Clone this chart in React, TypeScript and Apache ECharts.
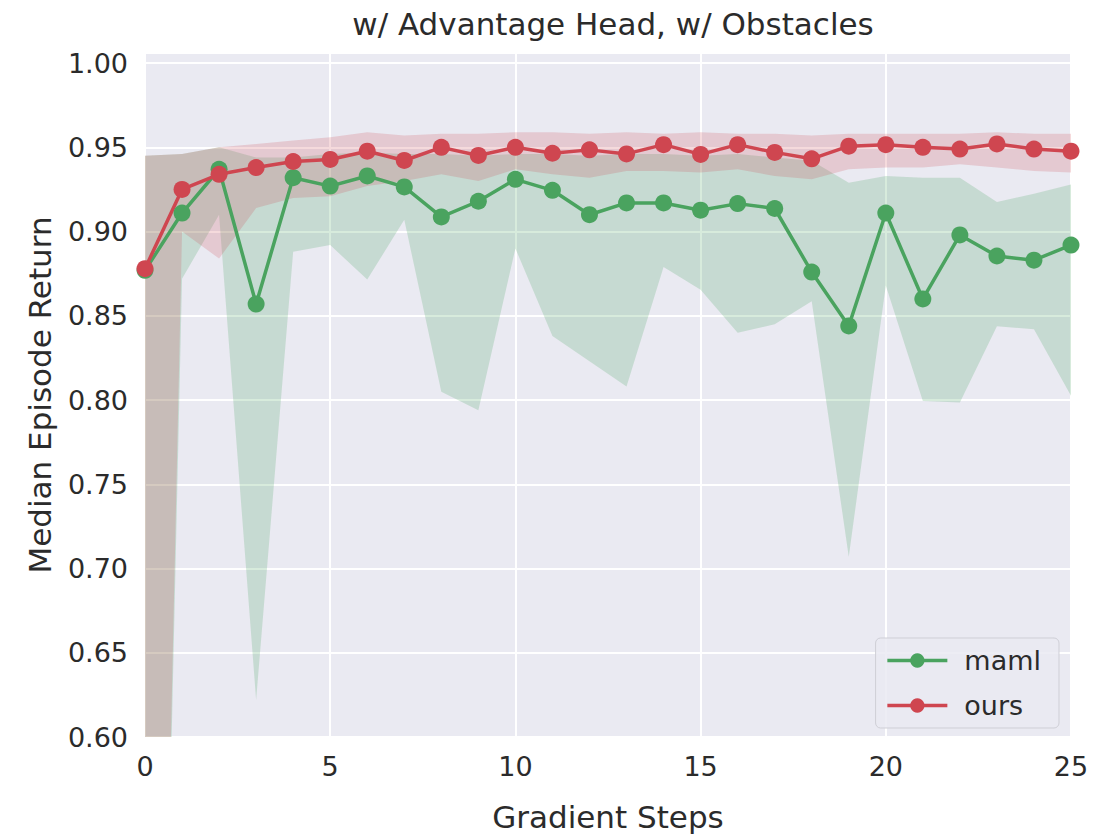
import React, { useEffect, useRef } from "react";
import * as echarts from "echarts";

const steps = [0, 1, 2, 3, 4, 5, 6, 7, 8, 9, 10, 11, 12, 13, 14, 15, 16, 17, 18, 19, 20, 21, 22, 23, 24, 25];

const mamlMedian = [0.877, 0.911, 0.937, 0.857, 0.932, 0.927, 0.933, 0.9265, 0.9087, 0.918, 0.931, 0.9245, 0.910, 0.917, 0.917, 0.9127, 0.9166, 0.9137, 0.876, 0.844, 0.911, 0.860, 0.898, 0.8855, 0.883, 0.892];
const mamlLower = [-0.1, 0.872, 0.91, 0.622, 0.888, 0.892, 0.8715, 0.907, 0.805, 0.794, 0.890, 0.838, 0.823, 0.808, 0.879, 0.8655, 0.840, 0.845, 0.8586, 0.707, 0.868, 0.7995, 0.7985, 0.8438, 0.842, 0.8025];
const mamlUpper = [0.945, 0.946, 0.950, 0.944, 0.944, 0.946, 0.947, 0.946, 0.946, 0.945, 0.946, 0.946, 0.945, 0.946, 0.946, 0.945, 0.946, 0.944, 0.942, 0.929, 0.933, 0.932, 0.932, 0.9176, 0.9225, 0.928];

const oursMedian = [0.878, 0.925, 0.934, 0.938, 0.9416, 0.9428, 0.9477, 0.9422, 0.950, 0.9452, 0.950, 0.9465, 0.9485, 0.9461, 0.9516, 0.9458, 0.9516, 0.947, 0.9432, 0.9507, 0.9516, 0.950, 0.949, 0.952, 0.949, 0.9477];
const oursLower = [-0.1, 0.90, 0.884, 0.914, 0.92, 0.921, 0.927, 0.93, 0.934, 0.930, 0.937, 0.934, 0.932, 0.936, 0.936, 0.935, 0.937, 0.933, 0.931, 0.937, 0.938, 0.938, 0.940, 0.938, 0.936, 0.935];
const oursUpper = [0.945, 0.946, 0.950, 0.952, 0.954, 0.956, 0.959, 0.957, 0.958, 0.958, 0.959, 0.959, 0.958, 0.959, 0.958, 0.959, 0.958, 0.958, 0.957, 0.958, 0.958, 0.958, 0.958, 0.959, 0.958, 0.958];

const xTicks = [0, 5, 10, 15, 20, 25];
const yTicks = [0.6, 0.65, 0.7, 0.75, 0.8, 0.85, 0.9, 0.95, 1.0];

const GREEN = "#4aa35f";
const RED = "#cf4650";
const GREEN_BAND = "rgba(74,163,95,0.22)";
const RED_BAND = "rgba(207,70,80,0.2)";
const FONT = "DejaVu Sans";
const TEXT = "#2b2b2b";

function pairs(ys: number[]) {
  return steps.map((x, i) => [x, ys[i]]);
}

function bandSeries(name: string, lo: number[], up: number[], fill: string) {
  return {
    name,
    type: "custom",
    clip: true,
    silent: true,
    data: steps.map((x, i) => [x, lo[i], up[i]]),
    encode: { x: 0, y: [1, 2] },
    renderItem: (params: any, api: any) => {
      if (params.dataIndex !== 0) return null;
      const pts: number[][] = [];
      for (let i = 0; i < steps.length; i++) pts.push(api.coord([steps[i], up[i]]));
      for (let i = steps.length - 1; i >= 0; i--) pts.push(api.coord([steps[i], lo[i]]));
      return {
        type: "polygon",
        shape: { points: pts },
        style: { fill, stroke: "none" },
      };
    },
  };
}

function lineSeries(name: string, ys: number[], color: string) {
  return {
    name,
    type: "line",
    data: pairs(ys),
    symbol: "circle",
    symbolSize: 17,
    itemStyle: { color },
    lineStyle: { color, width: 3.5 },
  };
}

export default function App() {
  const ref = useRef<HTMLDivElement>(null);
  useEffect(() => {
    if (!ref.current) return;
    const chart = echarts.init(ref.current, undefined, { renderer: "svg" });
    chart.setOption({
      animation: false,
      textStyle: { fontFamily: FONT },
      title: {
        text: "w/ Advantage Head, w/ Obstacles",
        left: 608,
        textAlign: "center",
        top: 3,
        textStyle: { fontFamily: FONT, fontSize: 31, fontWeight: "normal", color: TEXT },
      },
      grid: {
        left: 145,
        right: 25,
        top: 53,
        bottom: 94,
        show: true,
        backgroundColor: "#eaeaf2",
        borderWidth: 0,
      },
      legend: {
        data: ["maml", "ours"],
        orient: "vertical",
        right: 37,
        bottom: 109,
        itemWidth: 60,
        itemHeight: 18,
        itemGap: 18,
        padding: [9, 18, 9, 10],
        backgroundColor: "rgba(234,234,242,0.85)",
        borderColor: "#cfcfd6",
        borderWidth: 1,
        borderRadius: 5,
        lineStyle: { width: 3.5 },
        textStyle: { fontFamily: FONT, fontSize: 27, color: TEXT, padding: [0, 0, 0, 12] },
      },
      xAxis: {
        type: "value",
        min: xTicks[0],
        max: xTicks[xTicks.length - 1],
        interval: 5,
        name: "Gradient Steps",
        nameLocation: "middle",
        nameGap: 64,
        nameTextStyle: { fontFamily: FONT, fontSize: 31, color: TEXT },
        axisLine: { show: false },
        axisTick: { show: false },
        axisLabel: { fontFamily: FONT, fontSize: 27, color: TEXT, margin: 16 },
        splitLine: { show: true, lineStyle: { color: "#ffffff", width: 2 } },
      },
      yAxis: {
        type: "value",
        min: yTicks[0],
        max: 1.006,
        interval: 0.05,
        name: "Median Episode Return",
        nameLocation: "middle",
        nameGap: 90,
        nameTextStyle: { fontFamily: FONT, fontSize: 31, color: TEXT },
        axisLine: { show: false },
        axisTick: { show: false },
        axisLabel: {
          fontFamily: FONT,
          fontSize: 27,
          color: TEXT,
          margin: 17,
          formatter: (v: number) =>
            yTicks.some((t) => Math.abs(t - v) < 1e-6) ? v.toFixed(2) : "",
        },
        splitLine: { show: true, lineStyle: { color: "#ffffff", width: 2 } },
      },
      series: [
        bandSeries("mamlBand", mamlLower, mamlUpper, GREEN_BAND),
        lineSeries("maml", mamlMedian, GREEN),
        bandSeries("oursBand", oursLower, oursUpper, RED_BAND),
        lineSeries("ours", oursMedian, RED),
      ],
    });
    return () => chart.dispose();
  }, []);
  return (
    <div
      ref={ref}
      style={{ position: "absolute", left: 0, top: 0, width: 1096, height: 837 }}
    />
  );
}
